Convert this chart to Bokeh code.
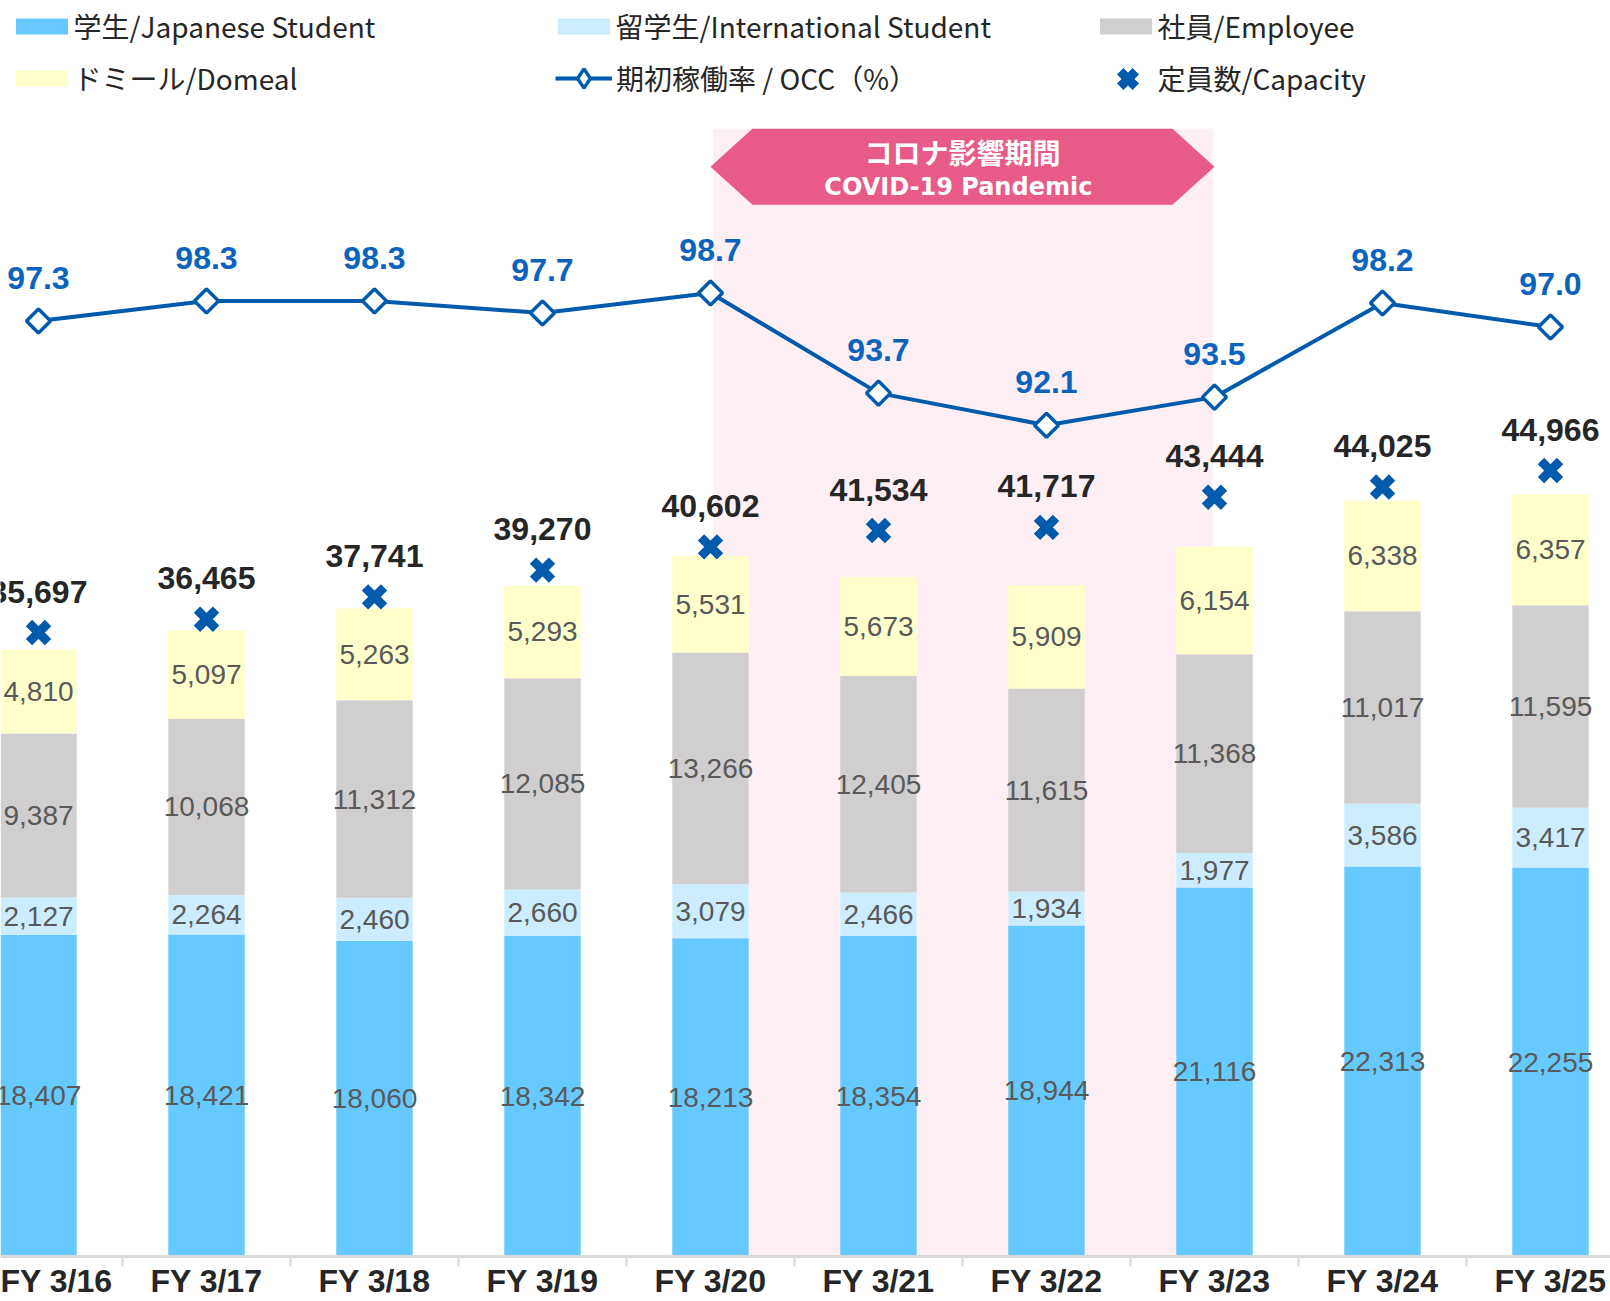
from bokeh.plotting import figure
from bokeh.models import (Range1d, FixedTicker, ColumnDataSource, Legend, LegendItem)
from bokeh.core.properties import value
from bokeh.embed import file_html
from bokeh.resources import INLINE

years = ["FY 3/16", "FY 3/17", "FY 3/18", "FY 3/19", "FY 3/20",
         "FY 3/21", "FY 3/22", "FY 3/23", "FY 3/24", "FY 3/25"]
japanese = [18407, 18421, 18060, 18342, 18213, 18354, 18944, 21116, 22313, 22255]
international = [2127, 2264, 2460, 2660, 3079, 2466, 1934, 1977, 3586, 3417]
employee = [9387, 10068, 11312, 12085, 13266, 12405, 11615, 11368, 11017, 11595]
domeal = [4810, 5097, 5263, 5293, 5531, 5673, 5909, 6154, 6338, 6357]
capacity = [35697, 36465, 37741, 39270, 40602, 41534, 41717, 43444, 44025, 44966]
occ = [97.3, 98.3, 98.3, 97.7, 98.7, 93.7, 92.1, 93.5, 98.2, 97.0]
pandemic_start, pandemic_end = "FY 3/20", "FY 3/23"

C_JP = "#66C9FF"
C_INTL = "#CCEDFF"
C_EMP = "#D0CECE"
C_DOM = "#FFFFCC"
C_BLUE = "#005BAC"
C_LBL_BLUE = "#0A63BC"
C_PINK_BAND = "#FDEFF4"
C_PINK = "#E85A88"

W, H = 1610, 1301
FH = 1254            # expected frame height (px)
PPU = 0.01745        # px per unit (primary axis)
OCC_PX = 20.0        # px per % (secondary axis)
Y2_START = 97.3 - (FH - 320) / OCC_PX
X0 = -38 / 168.0

x = list(range(len(years)))

p = figure(width=W, height=H, output_backend="svg", toolbar_location=None,
           x_range=Range1d(X0, X0 + W / 168.0),
           y_range=Range1d(0, FH / PPU),
           min_border_left=0, min_border_right=0, min_border_top=0,
           y_axis_location=None, outline_line_color=None,
           background_fill_color="white", border_fill_color="white")
p.extra_y_ranges = {"occ": Range1d(Y2_START, Y2_START + FH / OCC_PX)}
p.xgrid.visible = False
p.ygrid.visible = False


def fy(px_from_top):
    return (FH - px_from_top) / PPU


# pandemic band
i0, i1 = years.index(pandemic_start), years.index(pandemic_end)
p.quad(left=[i0 + 0.015], right=[i1 - 0.01], bottom=[0], top=[fy(128)],
       fill_color=C_PINK_BAND, line_color=None)

src = ColumnDataSource(dict(x=x, jp=japanese, intl=international,
                            emp=employee, dom=domeal))
bars = p.vbar_stack(["jp", "intl", "emp", "dom"], x="x", width=0.455, source=src,
                    color=[C_JP, C_INTL, C_EMP, C_DOM], line_color=None)

# segment labels
lx, ly, lt = [], [], []
for i in x:
    base = 0
    for v in (japanese[i], international[i], employee[i], domeal[i]):
        lx.append(i)
        ly.append(base + v / 2)
        lt.append(f"{v:,}")
        base += v
p.text(x=lx, y=ly, text=lt, text_align="center", text_baseline="middle",
       text_font=value("Liberation Sans"), text_font_size="28px",
       text_color="#595959")

# capacity markers
cap_r = p.scatter(x=x, y=capacity, marker="x", size=27, line_width=9,
                  line_color=C_BLUE)
p.text(x=x, y=[c + 41 / PPU for c in capacity], text=[f"{c:,}" for c in capacity],
       text_align="center", text_baseline="middle",
       text_font=value("Liberation Sans"), text_font_style="bold",
       text_font_size="32px", text_color="#262626")

# occupancy line
occ_line = p.line(x=x, y=occ, y_range_name="occ", line_color=C_BLUE, line_width=4)
occ_pts = p.scatter(x=x, y=occ, y_range_name="occ", marker="square", angle=0.785398,
                    size=17, fill_color="white", line_color=C_BLUE, line_width=3.5)
# legend-only diamond glyph (no visible data)
occ_key = p.scatter(x=[float("nan")], y=[float("nan")], y_range_name="occ",
                    marker="diamond", fill_color="white", line_color=C_BLUE,
                    line_width=3.5)
p.text(x=x, y=[o + 43 / OCC_PX for o in occ], y_range_name="occ",
       text=[f"{o:.1f}" for o in occ], text_align="center", text_baseline="middle",
       text_font=value("Liberation Sans"), text_font_style="bold",
       text_font_size="32px", text_color=C_LBL_BLUE)

# pandemic banner
top, bot = fy(128), fy(204)
mid = (top + bot) / 2
p.patch(x=[i0, i0 + 0.25, i1 - 0.25, i1, i1 - 0.25, i0 + 0.25],
        y=[mid, top, top, mid, bot, bot], fill_color=C_PINK, line_color=None)
p.text(x=[(i0 + i1) / 2], y=[fy(151)], text=["コロナ影響期間"], text_align="center",
       text_baseline="middle", text_font=value("Noto Sans CJK JP"),
       text_font_style="bold", text_font_size="28px", text_color="white")
p.text(x=[(i0 + i1) / 2], y=[fy(186)], text=["COVID-19  Pandemic"], text_align="center",
       text_baseline="middle", text_font=value("DejaVu Sans"),
       text_font_style="bold", text_font_size="24px", text_color="white")

# x axis
ax = p.xaxis[0]
ax.ticker = FixedTicker(ticks=x, minor_ticks=[i - 0.5 for i in range(len(years) + 1)])
ax.major_label_overrides = {i: years[i] for i in x}
ax.major_tick_line_color = None
ax.major_tick_out = 0
ax.major_tick_in = 0
ax.minor_tick_out = 10
ax.minor_tick_in = 0
ax.minor_tick_line_color = "#D9D9D9"
ax.minor_tick_line_width = 2
ax.axis_line_color = "#D9D9D9"
ax.axis_line_width = 3
ax.major_label_standoff = -4
ax.major_label_text_font = "Liberation Sans"
ax.major_label_text_font_style = "bold"
ax.major_label_text_font_size = "32px"
ax.major_label_text_color = "#262626"

ITEM_H = 56


def add_legend(label, renderers, left, center_y, gw, gh, standoff=0):
    lg = Legend(items=[LegendItem(label=label, renderers=renderers)],
                location=(left, FH - center_y - ITEM_H / 2), orientation="horizontal",
                glyph_width=gw, glyph_height=gh, label_height=ITEM_H,
                label_standoff=standoff, padding=0, margin=0, spacing=0,
                border_line_color=None, background_fill_alpha=0,
                label_text_font="Noto Sans CJK JP", label_text_font_size="28px",
                label_text_color="#262626")
    p.add_layout(lg)


add_legend("学生/Japanese Student", [bars[0]], 8.5, 24, 65, 20)
add_legend("留学生/International Student", [bars[1]], 550.5, 24, 65, 20)
add_legend("社員/Employee", [bars[2]], 1092.5, 24, 65, 20)
add_legend("ドミール/Domeal", [bars[3]], 8.5, 76, 65, 20)
add_legend("期初稼働率 / OCC（%）", [occ_line, occ_key], 555, 76, 57, 48, 4)
add_legend("定員数/Capacity", [cap_r], 1099.5, 76, 55, 55, 3)

open("out.html", "w").write(file_html(p, INLINE))
